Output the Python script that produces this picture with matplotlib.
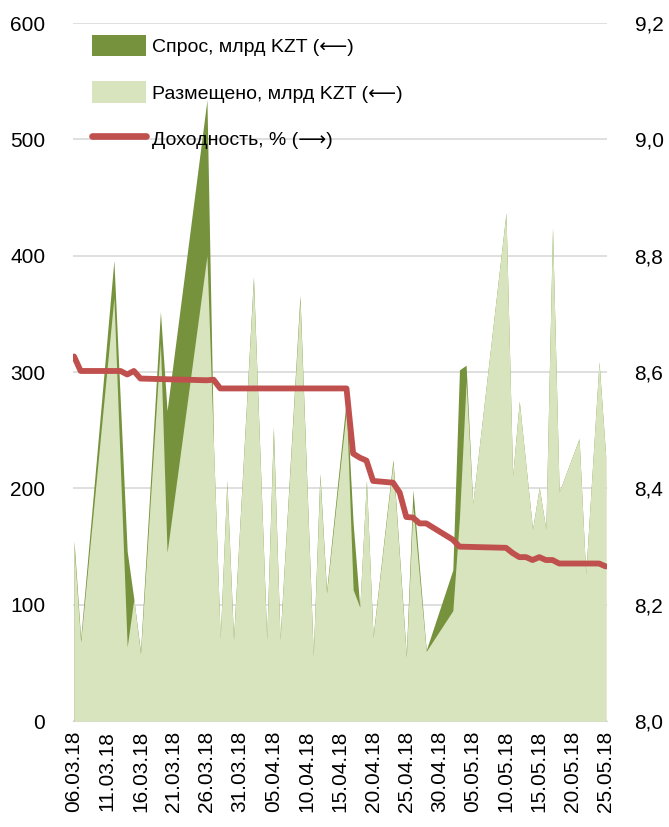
import matplotlib

matplotlib.use("Agg")
import matplotlib.dates as mdates
import matplotlib.pyplot as plt
import pandas as pd
from matplotlib.lines import Line2D
from matplotlib.patches import Patch
from matplotlib.ticker import FuncFormatter, MultipleLocator

plt.rcParams["font.family"] = ["Liberation Sans", "DejaVu Sans"]

# auction dates with demand / placed volume, bn KZT (left axis)
AUCTION_DATES = [
    "06.03.18", "07.03.18", "12.03.18", "14.03.18", "15.03.18", "16.03.18",
    "19.03.18", "20.03.18", "26.03.18", "27.03.18", "28.03.18", "29.03.18",
    "30.03.18", "02.04.18", "04.04.18", "05.04.18", "06.04.18", "09.04.18",
    "11.04.18", "12.04.18", "13.04.18", "16.04.18", "17.04.18", "18.04.18",
    "19.04.18", "20.04.18", "23.04.18", "25.04.18", "26.04.18", "28.04.18",
    "02.05.18", "03.05.18", "04.05.18", "05.05.18", "10.05.18", "11.05.18",
    "12.05.18", "14.05.18", "15.05.18", "16.05.18", "17.05.18", "18.05.18",
    "21.05.18", "22.05.18", "24.05.18", "25.05.18",
]
DEMAND = [
    155, 71, 396, 146, 105, 60, 352, 267, 534, 235,
    71, 207, 71, 382, 71, 253, 71, 366, 57, 213,
    112, 278, 170, 98, 207, 73, 225, 57, 199, 61,
    130, 302, 306, 187, 437, 211, 275, 165, 201, 165,
    424, 197, 243, 126, 309, 228,
]
PLACED = [
    150, 68, 364, 64, 105, 58, 325, 145, 400, 235,
    71, 205, 70, 380, 70, 250, 70, 362, 56, 210,
    110, 268, 113, 98, 207, 72, 222, 55, 185, 60,
    95, 175, 292, 187, 437, 211, 275, 165, 201, 165,
    424, 197, 243, 126, 309, 228,
]

# yield, % (right axis)
YIELD_DATES = [
    "06.03.18", "07.03.18", "13.03.18", "14.03.18", "15.03.18", "16.03.18",
    "26.03.18", "27.03.18", "28.03.18", "16.04.18", "17.04.18", "18.04.18",
    "19.04.18", "20.04.18", "23.04.18", "24.04.18", "25.04.18", "26.04.18",
    "27.04.18", "28.04.18", "02.05.18", "03.05.18", "10.05.18", "11.05.18",
    "12.05.18", "13.05.18", "14.05.18", "15.05.18", "16.05.18", "17.05.18",
    "18.05.18", "24.05.18", "25.05.18",
]
YIELD = [
    8.627, 8.602, 8.602, 8.596, 8.602, 8.589,
    8.586, 8.587, 8.572, 8.572, 8.460, 8.453,
    8.448, 8.413, 8.410, 8.393, 8.351, 8.350,
    8.340, 8.340, 8.312, 8.300, 8.298, 8.289,
    8.282, 8.282, 8.277, 8.282, 8.277, 8.277,
    8.271, 8.271, 8.266,
]

LABELS = ["Спрос, млрд KZT (⟵)", "Размещено, млрд KZT (⟵)", "Доходность, % (⟶)"]
DARK = "#76923c"
LIGHT = "#d7e4bd"
RED = "#c0504d"
TICK_FS = 15
LEGEND_FS = 14

auction = pd.to_datetime(AUCTION_DATES, format="%d.%m.%y")
ydates = pd.to_datetime(YIELD_DATES, format="%d.%m.%y")

fig = plt.figure(figsize=(6.69, 8.27), dpi=100)
ax = fig.add_axes([0.109, 0.128, 0.798, 0.844])
ax2 = ax.twinx()

ax.fill_between(auction, 0, DEMAND, color=DARK, lw=0, zorder=2)
ax.fill_between(auction, 0, PLACED, color=LIGHT, lw=0, zorder=3)
ax2.plot(ydates, YIELD, color=RED, lw=4.2, solid_capstyle="round",
         solid_joinstyle="round", zorder=4)

ax.set_ylim(0, 600)
ax.yaxis.set_major_locator(MultipleLocator(100))
ax2.set_ylim(8.0, 9.2)
ax2.yaxis.set_major_locator(MultipleLocator(0.2))
ax2.yaxis.set_major_formatter(FuncFormatter(lambda v, _: f"{v:.1f}".replace(".", ",")))

ax.set_xlim(auction[0] - pd.Timedelta(hours=4), auction[-1] + pd.Timedelta(hours=4))
ticks = pd.date_range(auction[0], auction[-1], freq="5D")
ax.set_xticks(ticks)
ax.xaxis.set_major_formatter(mdates.DateFormatter("%d.%m.%y"))

ax.grid(axis="y", color="#d9d9d9", lw=1.2, zorder=0)
ax.set_axisbelow(True)
for a in (ax, ax2):
    for side in ("left", "right", "top"):
        a.spines[side].set_visible(False)
    a.spines["bottom"].set_color("#d9d9d9")
    a.tick_params(length=0, labelsize=TICK_FS, colors="black")
ax2.spines["bottom"].set_visible(False)
ax.tick_params(axis="x", rotation=90, pad=7)
ax.tick_params(axis="y", pad=20)
ax2.tick_params(axis="y", pad=20)

handles = [
    Patch(facecolor=DARK, edgecolor="none"),
    Patch(facecolor=LIGHT, edgecolor="none"),
    Line2D([], [], color=RED, lw=4.8, solid_capstyle="round"),
]
ax2.legend(handles, LABELS, loc="upper left", bbox_to_anchor=(0.0, 1.011),
           frameon=False, fontsize=LEGEND_FS, handlelength=2.75, handleheight=1.3,
           labelspacing=1.3, handletextpad=0.3, borderaxespad=0.6)

fig.savefig("out.png", dpi=100)
